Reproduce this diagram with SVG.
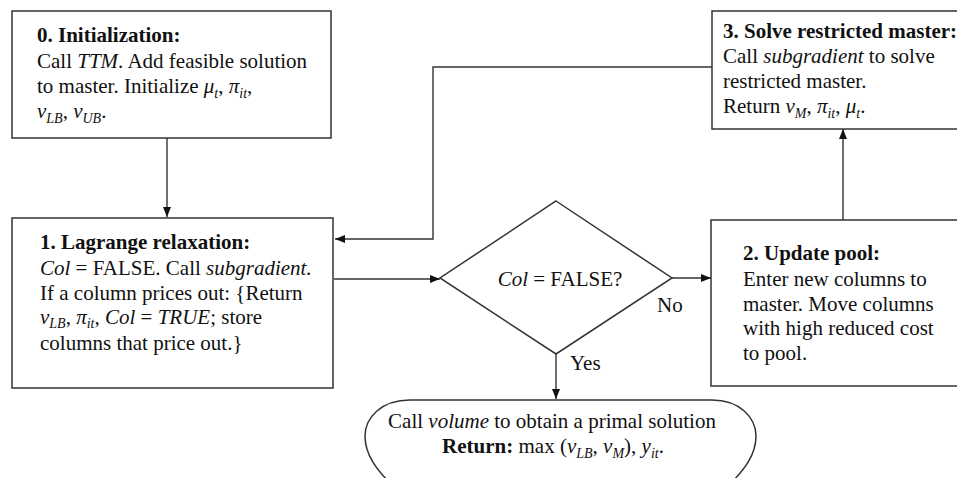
<svg xmlns="http://www.w3.org/2000/svg" width="957" height="478" viewBox="0 0 957 478">
<style>
text{font-family:"Liberation Serif","Times New Roman",serif;font-size:21px;fill:#111}
.b{font-weight:bold}
.i{font-style:italic}
.sb{font-size:14px;font-style:italic}
.box{fill:#fff;stroke:#333;stroke-width:1.5}
.ln{fill:none;stroke:#333;stroke-width:1.4}
</style>
<defs>
<marker id="ah" viewBox="0 0 10 10" refX="10" refY="5" markerWidth="10" markerHeight="10" markerUnits="userSpaceOnUse" orient="auto">
<path d="M0,1 L10,5 L0,9 Z" fill="#111"/>
</marker>
</defs>
<rect width="957" height="478" fill="#fff"/>
<g id="connectors">
<path class="ln" d="M167,138 V217" marker-end="url(#ah)"/>
<path class="ln" d="M334,279 H440" marker-end="url(#ah)"/>
<path class="ln" d="M672,278 H711" marker-end="url(#ah)"/>
<path class="ln" d="M843,220 V129" marker-end="url(#ah)"/>
<path class="ln" d="M712,67 H433 V239 H335" marker-end="url(#ah)"/>
<path class="ln" d="M556,354 V399" marker-end="url(#ah)"/>
</g>
<g id="n0">
<rect class="box" x="12" y="11" width="319" height="127"/>
<text x="37" y="42" class="b">0. Initialization:</text>
<text x="37" y="68">Call <tspan class="i">TTM</tspan>. Add feasible solution</text>
<text x="37" y="93">to master. Initialize <tspan class="i">μ</tspan><tspan class="sb" dy="5">t</tspan><tspan dy="-5">, </tspan><tspan class="i">π</tspan><tspan class="sb" dy="5">it</tspan><tspan dy="-5">,</tspan></text>
<text x="37" y="118"><tspan class="i">v</tspan><tspan class="sb" dy="5">LB</tspan><tspan dy="-5">, </tspan><tspan class="i">v</tspan><tspan class="sb" dy="5">UB</tspan><tspan dy="-5">.</tspan></text>
</g>
<g id="n1">
<rect class="box" x="12" y="218" width="321" height="170"/>
<text x="40" y="249" class="b">1. Lagrange relaxation:</text>
<text x="40" y="275"><tspan class="i">Col</tspan> = FALSE. Call <tspan class="i">subgradient.</tspan></text>
<text x="40" y="300">If a column prices out: {Return</text>
<text x="40" y="324"><tspan class="i">v</tspan><tspan class="sb" dy="4">LB</tspan><tspan dy="-4">, </tspan><tspan class="i">π</tspan><tspan class="sb" dy="4">it</tspan><tspan dy="-4">, </tspan><tspan class="i">Col</tspan> = <tspan class="i">TRUE</tspan>; store</text>
<text x="40" y="350">columns that price out.}</text>
</g>
<g id="n2">
<rect class="box" x="711" y="220" width="260" height="166"/>
<text x="743" y="260" class="b">2. Update pool:</text>
<text x="743" y="286">Enter new columns to</text>
<text x="743" y="311">master. Move columns</text>
<text x="743" y="335">with high reduced cost</text>
<text x="743" y="360">to pool.</text>
</g>
<g id="n3">
<rect class="box" x="712" y="11" width="260" height="118"/>
<text x="723" y="38" class="b">3. Solve restricted master:</text>
<text x="723" y="63">Call <tspan class="i">subgradient</tspan> to solve</text>
<text x="723" y="88">restricted master.</text>
<text x="723" y="113">Return <tspan class="i">v</tspan><tspan class="sb" dy="5">M</tspan><tspan dy="-5">, </tspan><tspan class="i">π</tspan><tspan class="sb" dy="5">it</tspan><tspan dy="-5">, </tspan><tspan class="i">μ</tspan><tspan class="sb" dy="5">t</tspan><tspan dy="-5">.</tspan></text>
</g>
<g id="decision">
<path class="box" d="M556,201 L672,278 L556,354 L440,278 Z"/>
<text x="560" y="286" text-anchor="middle"><tspan class="i">Col</tspan> = FALSE?</text>
<text x="657" y="312">No</text>
<text x="570" y="370">Yes</text>
</g>
<g id="end">
<path class="box" d="M410,400 H712 C740,400 756,418 756,436 C756,455 744,470 730,484 H391 C377,470 365,455 365,436 C365,418 381,400 410,400 Z"/>
<text x="552" y="428" text-anchor="middle">Call <tspan class="i">volume</tspan> to obtain a primal solution</text>
<text x="553" y="453" text-anchor="middle"><tspan class="b">Return:</tspan> max (<tspan class="i">v</tspan><tspan class="sb" dy="5">LB</tspan><tspan dy="-5">, </tspan><tspan class="i">v</tspan><tspan class="sb" dy="5">M</tspan><tspan dy="-5">), </tspan><tspan class="i">y</tspan><tspan class="sb" dy="5">it</tspan><tspan dy="-5">.</tspan></text>
</g>
</svg>
